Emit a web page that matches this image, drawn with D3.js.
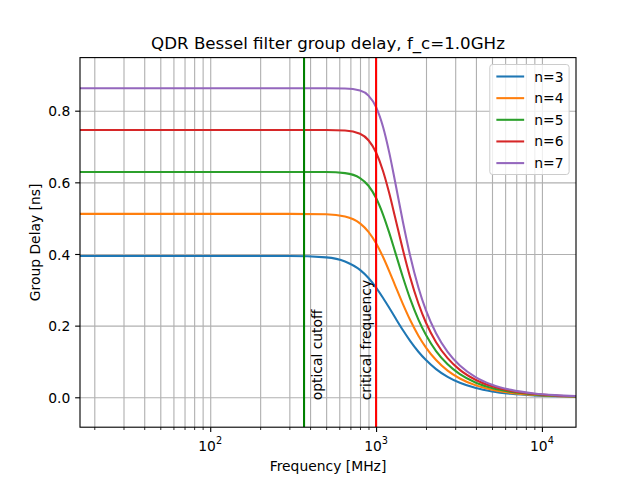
<!DOCTYPE html>
<html>
<head>
<meta charset="utf-8">
<script src="https://cdn.jsdelivr.net/npm/d3@7"></script>
<style>
  body { margin: 0; background: #ffffff; }
  svg { display: block; font-family: "DejaVu Sans", sans-serif; }
</style>
</head>
<body>
<svg id="chart" width="640" height="480"></svg>
<script>
// ---------------- data ----------------
const freqMHz = [16.4, 300, 500, 650, 800, 900, 1000, 1100, 1200, 1300, 1450, 1600,
                 1800, 2000, 2300, 2700, 3200, 4000, 5000, 6500, 9000, 12000, 16050];

const seriesNames = ["n=3", "n=4", "n=5", "n=6", "n=7"];

const delayN3 = [0.3945, 0.3943, 0.3905, 0.3792, 0.3556, 0.3329, 0.3064, 0.2780, 0.2499, 0.2233, 0.1878, 0.1583,
                 0.1272, 0.1038, 0.0786, 0.0569, 0.0404, 0.0257, 0.0164, 0.0097, 0.0050, 0.0028, 0.0016];
const delayN4 = [0.5120, 0.5120, 0.5108, 0.5047, 0.4855, 0.4619, 0.4300, 0.3922, 0.3523, 0.3133, 0.2607, 0.2170,
                 0.1720, 0.1387, 0.1039, 0.0745, 0.0525, 0.0332, 0.0211, 0.0124, 0.0065, 0.0036, 0.0020];
const delayN5 = [0.6290, 0.6290, 0.6287, 0.6257, 0.6120, 0.5905, 0.5562, 0.5109, 0.4595, 0.4073, 0.3358, 0.2768,
                 0.2169, 0.1736, 0.1290, 0.0920, 0.0645, 0.0407, 0.0258, 0.0152, 0.0079, 0.0044, 0.0025];
const delayN6 = [0.7460, 0.7460, 0.7459, 0.7446, 0.7356, 0.7174, 0.6833, 0.6325, 0.5701, 0.5042, 0.4125, 0.3371,
                 0.2618, 0.2081, 0.1538, 0.1092, 0.0764, 0.0482, 0.0305, 0.0179, 0.0093, 0.0052, 0.0029];
const delayN7 = [0.8626, 0.8626, 0.8626, 0.8620, 0.8564, 0.8420, 0.8101, 0.7559, 0.6836, 0.6038, 0.4906, 0.3980,
                 0.3066, 0.2426, 0.1785, 0.1265, 0.0884, 0.0556, 0.0352, 0.0207, 0.0107, 0.0060, 0.0034];

const markerFreqMHz = [367.9, 1000];
const markerLabels = ["optical cutoff", "critical frequency"];
const markerLabelFreqMHz = [404.7, 800];

const xMajorTicks = [100, 1000, 10000];
const xMajorExponents = ["2", "3", "4"];
const yTicks = [0.0, 0.2, 0.4, 0.6, 0.8];
const yTickLabels = ["0.0", "0.2", "0.4", "0.6", "0.8"];

const titleText = "QDR Bessel filter group delay, f_c=1.0GHz";
const xLabelText = "Frequency [MHz]";
const yLabelText = "Group Delay [ns]";

// ---------------- styling / layout ----------------
const seriesColors = ["#1f77b4", "#ff7f0e", "#2ca02c", "#d62728", "#9467bd"];
const markerColors = ["#008000", "#ff0000"];
const axL = 80, axR = 576, axT = 57.6, axB = 427.2;
const fs = 13.89;
const lw = 2.08;      // 1.5 pt
const thin = 1.11;    // 0.8 pt

const allSeries = [delayN3, delayN4, delayN5, delayN6, delayN7].map((vals, i) => ({
  name: seriesNames[i], color: seriesColors[i],
  points: freqMHz.map((f, j) => ({ f: f, v: vals[j] }))
}));

const svg = d3.select("#chart");
svg.append("rect").attr("width", 640).attr("height", 480).attr("fill", "#ffffff");

const x = d3.scaleLog().domain([16.4, 16050]).range([axL, axR]);
const y = d3.scaleLinear().domain([-0.0835, 0.9482]).range([axB, axT]);

// minor ticks
const xMinorTicks = [];
[10, 100, 1000, 10000].forEach(d => {
  for (let k = 2; k <= 9; k++) {
    const v = d * k;
    if (v >= x.domain()[0] && v <= x.domain()[1]) xMinorTicks.push(v);
  }
});

svg.append("defs").append("clipPath").attr("id", "plotclip")
  .append("rect").attr("x", axL).attr("y", axT).attr("width", axR - axL).attr("height", axB - axT);

// ---------------- grid ----------------
const gridX = svg.append("g").attr("transform", `translate(0,${axB})`)
  .call(d3.axisBottom(x).tickValues(xMajorTicks.concat(xMinorTicks)).tickSize(-(axB - axT)).tickFormat(""));
gridX.select(".domain").remove();
gridX.selectAll("line").attr("stroke", "#b0b0b0").attr("stroke-width", thin);

const gridY = svg.append("g").attr("transform", `translate(${axL},0)`)
  .call(d3.axisLeft(y).tickValues(yTicks).tickSize(-(axR - axL)).tickFormat(""));
gridY.select(".domain").remove();
gridY.selectAll("line").attr("stroke", "#b0b0b0").attr("stroke-width", thin);

// ---------------- curves ----------------
const line = d3.line()
  .x(d => x(d.f)).y(d => y(d.v))
  .curve(d3.curveMonotoneX);

const plot = svg.append("g").attr("clip-path", "url(#plotclip)");
plot.selectAll("path.series").data(allSeries).enter().append("path")
  .attr("class", "series")
  .attr("d", d => line(d.points))
  .attr("fill", "none")
  .attr("stroke", d => d.color)
  .attr("stroke-width", lw)
  .attr("stroke-linejoin", "round")
  .attr("stroke-linecap", "square");

// vertical marker lines
plot.selectAll("line.marker").data(markerFreqMHz).enter().append("line")
  .attr("class", "marker")
  .attr("x1", d => x(d)).attr("x2", d => x(d))
  .attr("y1", axT).attr("y2", axB)
  .attr("stroke", (d, i) => markerColors[i])
  .attr("stroke-width", lw);

// marker labels (rotated)
svg.selectAll("text.mlabel").data(markerLabels).enter().append("text")
  .attr("class", "mlabel")
  .attr("transform", (d, i) => `translate(${x(markerLabelFreqMHz[i]) + 10.6},${y(0) + 3}) rotate(-90)`)
  .attr("font-size", fs)
  .attr("fill", "#000000")
  .text(d => d);

// ---------------- spines ----------------
svg.append("rect").attr("x", axL).attr("y", axT).attr("width", axR - axL).attr("height", axB - axT)
  .attr("fill", "none").attr("stroke", "#000000").attr("stroke-width", thin);

// ---------------- ticks ----------------
const xMajorAxis = svg.append("g").attr("transform", `translate(0,${axB})`)
  .call(d3.axisBottom(x).tickValues(xMajorTicks).tickSize(4.86).tickFormat(""));
xMajorAxis.select(".domain").remove();
xMajorAxis.selectAll("line").attr("stroke", "#000000").attr("stroke-width", thin);

const xMinorAxis = svg.append("g").attr("transform", `translate(0,${axB})`)
  .call(d3.axisBottom(x).tickValues(xMinorTicks).tickSize(2.78).tickFormat(""));
xMinorAxis.select(".domain").remove();
xMinorAxis.selectAll("line").attr("stroke", "#000000").attr("stroke-width", 0.83);

const xl = svg.selectAll("text.xtick").data(xMajorTicks).enter().append("text")
  .attr("class", "xtick")
  .attr("x", d => x(d))
  .attr("y", 451)
  .attr("text-anchor", "middle")
  .attr("font-size", fs)
  .attr("fill", "#000000");
xl.append("tspan").text("10");
xl.append("tspan").attr("dy", -6.8).attr("font-size", 9.7).text((d, i) => xMajorExponents[i]);

const yAxis = svg.append("g").attr("transform", `translate(${axL},0)`)
  .call(d3.axisLeft(y).tickValues(yTicks).tickSize(4.86).tickPadding(4.86)
    .tickFormat((d, i) => yTickLabels[i]));
yAxis.select(".domain").remove();
yAxis.selectAll("line").attr("stroke", "#000000").attr("stroke-width", thin);
yAxis.selectAll("text").attr("font-size", fs).attr("fill", "#000000")
  .attr("font-family", "DejaVu Sans, sans-serif").attr("dy", "0.36em");

// ---------------- labels ----------------
svg.append("text").attr("x", (axL + axR) / 2).attr("y", 49.3)
  .attr("text-anchor", "middle").attr("font-size", 16.67).attr("fill", "#000000")
  .text(titleText);

svg.append("text").attr("x", (axL + axR) / 2).attr("y", 471)
  .attr("text-anchor", "middle").attr("font-size", fs).attr("fill", "#000000")
  .text(xLabelText);

svg.append("text")
  .attr("transform", `translate(40,${(axT + axB) / 2}) rotate(-90)`)
  .attr("text-anchor", "middle").attr("font-size", fs).attr("fill", "#000000")
  .text(yLabelText);

// ---------------- legend ----------------
const lgL = 489.8, lgT = 64.5, lgW = 79.3, lgH = 110;
const legend = svg.append("g");
legend.append("rect").attr("x", lgL).attr("y", lgT).attr("width", lgW).attr("height", lgH)
  .attr("rx", 2.8).attr("ry", 2.8)
  .attr("fill", "#ffffff").attr("fill-opacity", 0.8)
  .attr("stroke", "#cccccc").attr("stroke-width", 1.0);
const rowY = i => lgT + 12 + i * 21.65;
legend.selectAll("line.lg").data(allSeries).enter().append("line")
  .attr("class", "lg")
  .attr("x1", lgL + 5.56 + 1).attr("x2", lgL + 5.56 + 27.8 + 1)
  .attr("y1", (d, i) => rowY(i)).attr("y2", (d, i) => rowY(i))
  .attr("stroke", d => d.color).attr("stroke-width", lw);
legend.selectAll("text.lg").data(allSeries).enter().append("text")
  .attr("class", "lg")
  .attr("x", lgL + 5.56 + 27.8 + 11.1)
  .attr("y", (d, i) => rowY(i) + 5)
  .attr("font-size", fs).attr("fill", "#000000")
  .text(d => d.name);
</script>
</body>
</html>
